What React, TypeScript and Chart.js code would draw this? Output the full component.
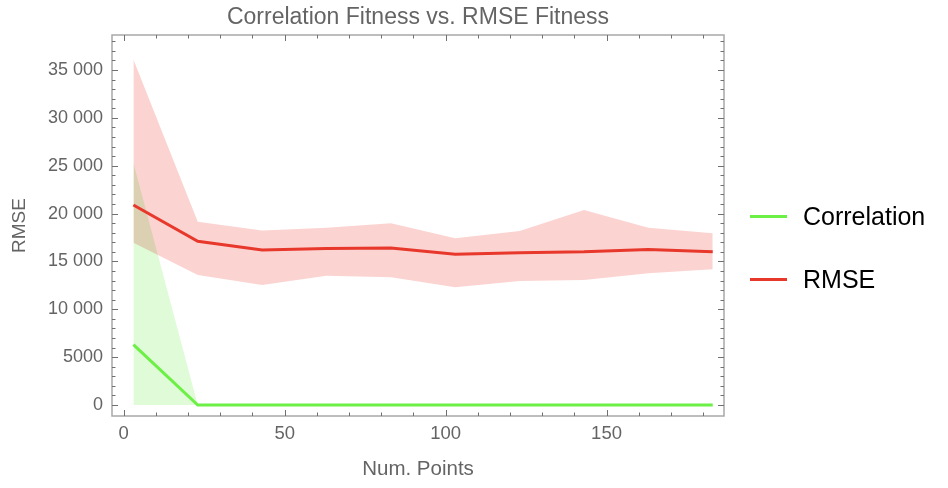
import { useEffect, useRef } from 'react';
import { Chart, registerables, Plugin } from 'chart.js';

Chart.register(...registerables);

// x positions (number of points)
const numPoints = [3, 23, 43, 63, 83, 103, 123, 143, 163, 183];

// Correlation fitness: mean and band
const corrMean = [6300, 0, 0, 0, 0, 0, 0, 0, 0, 0];
const corrHigh = [25300, 0, 0, 0, 0, 0, 0, 0, 0, 0];
const corrLow = [0, 0, 0, 0, 0, 0, 0, 0, 0, 0];

// RMSE fitness: mean and band
const rmseMean = [20900, 17100, 16200, 16350, 16400, 15750, 15900, 16000, 16250, 16000];
const rmseHigh = [36100, 19150, 18220, 18530, 18980, 17410, 18180, 20380, 18530, 17940];
const rmseLow = [16960, 13580, 12540, 13510, 13340, 12300, 12960, 13060, 13760, 14180];

const xTicks = [0, 50, 100, 150];
const yTicks = [0, 5000, 10000, 15000, 20000, 25000, 30000, 35000];
const yTickLabels = ['0', '5000', '10 000', '15 000', '20 000', '25 000', '30 000', '35 000'];

const seriesNames = ['Correlation', 'RMSE'];
const lineColors = ['#6cf046', '#e8382b'];
const bandColors = ['#e0fbd8', '#fbd4d2'];

const FONT = '"Liberation Sans", Arial, sans-serif';
const GRAY = '#646464';

const pts = (ys: number[]) => numPoints.map((x, i) => ({ x, y: ys[i] }));

// Mathematica-style frame with inward ticks on all four sides,
// plus multiply blending for the overlapping error bands
const framePlugin: Plugin<'line'> = {
  id: 'frame',
  beforeDraw(chart) {
    chart.ctx.globalCompositeOperation = 'multiply';
  },
  beforeDatasetsDraw(chart) {
    // filler has already painted the bands by now
    chart.ctx.globalCompositeOperation = 'source-over';
  },
  afterDraw(chart) {
    const { ctx, chartArea: a, scales } = chart;
    const sx = scales.x;
    const sy = scales.y;
    ctx.save();
    ctx.globalCompositeOperation = 'source-over';
    ctx.strokeStyle = '#a8a8a8';
    ctx.lineWidth = 1.5;
    ctx.strokeRect(a.left, a.top, a.right - a.left, a.bottom - a.top);

    ctx.strokeStyle = '#707070';
    ctx.lineWidth = 1;
    ctx.beginPath();
    for (let v = 0; v <= 180; v += 10) {
      const px = Math.round(sx.getPixelForValue(v)) + 0.5;
      const len = v % 50 === 0 ? 6 : 3.5;
      ctx.moveTo(px, a.bottom);
      ctx.lineTo(px, a.bottom - len);
      ctx.moveTo(px, a.top);
      ctx.lineTo(px, a.top + len);
    }
    for (let v = 0; v <= 38000; v += 1000) {
      const py = Math.round(sy.getPixelForValue(v)) + 0.5;
      const len = v % 5000 === 0 ? 6 : 3.5;
      ctx.moveTo(a.left, py);
      ctx.lineTo(a.left + len, py);
      ctx.moveTo(a.right, py);
      ctx.lineTo(a.right - len, py);
    }
    ctx.stroke();
    ctx.restore();
  },
};

const FitnessChart = () => {
  const canvasRef = useRef<HTMLCanvasElement | null>(null);

  useEffect(() => {
    if (!canvasRef.current) return;
    Chart.defaults.font.family = FONT;

    const band = (ys: number[], color: string, fill: string | boolean) => ({
      data: pts(ys),
      borderWidth: 0,
      pointRadius: 0,
      backgroundColor: color,
      fill,
      tension: 0,
    });

    const chart = new Chart(canvasRef.current, {
      type: 'line',
      data: {
        datasets: [
          {
            label: seriesNames[0],
            data: pts(corrMean),
            borderColor: lineColors[0],
            borderWidth: 3,
            pointRadius: 0,
            fill: false,
            tension: 0,
          },
          {
            label: seriesNames[1],
            data: pts(rmseMean),
            borderColor: lineColors[1],
            borderWidth: 3,
            pointRadius: 0,
            fill: false,
            tension: 0,
          },
          band(corrHigh, bandColors[0], '+1'),
          band(corrLow, bandColors[0], false),
          band(rmseHigh, bandColors[1], '+1'),
          band(rmseLow, bandColors[1], false),
        ],
      },
      options: {
        animation: false,
        responsive: true,
        maintainAspectRatio: false,
        layout: { padding: { left: 0, right: 224, top: 0, bottom: 0 } },
        plugins: {
          legend: { display: false },
          tooltip: { enabled: false },
          filler: { propagate: false, drawTime: 'beforeDatasetsDraw' },
          title: {
            display: true,
            text: 'Correlation Fitness vs. RMSE Fitness',
            color: GRAY,
            fullSize: false,
            font: { size: 23, weight: 'normal' },
            padding: { top: 4, bottom: 3.4 },
          },
        },
        scales: {
          x: {
            type: 'linear',
            min: -3.65,
            max: 186.5,
            grid: { display: false, drawTicks: false },
            border: { display: false },
            afterBuildTicks: (s) => {
              s.ticks = xTicks.map((value) => ({ value }));
            },
            afterFit: (s) => {
              s.height = 72;
            },
            ticks: {
              color: GRAY,
              font: { size: 18.5 },
              padding: 7,
              maxRotation: 0,
              autoSkip: false,
            },
            title: {
              display: true,
              text: 'Num. Points',
              color: GRAY,
              font: { size: 20.5 },
              padding: { top: 0, bottom: 6 },
            },
          },
          y: {
            type: 'linear',
            min: -1150,
            max: 38660,
            grid: { display: false, drawTicks: false },
            border: { display: false },
            afterBuildTicks: (s) => {
              s.ticks = yTicks.map((value) => ({ value }));
            },
            afterFit: (s) => {
              s.width = 112;
            },
            ticks: {
              color: GRAY,
              font: { size: 18 },
              padding: 9,
              autoSkip: false,
              callback: (v) => yTickLabels[yTicks.indexOf(Number(v))] ?? '',
            },
            title: {
              display: true,
              text: 'RMSE',
              color: GRAY,
              font: { size: 19 },
              padding: { top: 8, bottom: 0 },
            },
          },
        },
      },
      plugins: [framePlugin],
    });

    return () => {
      chart.destroy();
    };
  }, []);

  return <canvas ref={canvasRef} />;
};

export default function App() {
  return (
    <div style={{ position: 'absolute', left: 0, top: 0, width: 948, height: 488, background: '#fff' }}>
      <FitnessChart />
      <div style={{ position: 'absolute', left: 750, top: 201, fontFamily: FONT, fontSize: 25, color: '#000' }}>
        {seriesNames.map((name, i) => (
          <div key={name} style={{ display: 'flex', alignItems: 'center', height: 30, marginBottom: 33 }}>
            <span style={{ display: 'inline-block', width: 37, height: 3, background: lineColors[i], marginRight: 16 }} />
            <span>{name}</span>
          </div>
        ))}
      </div>
    </div>
  );
}
